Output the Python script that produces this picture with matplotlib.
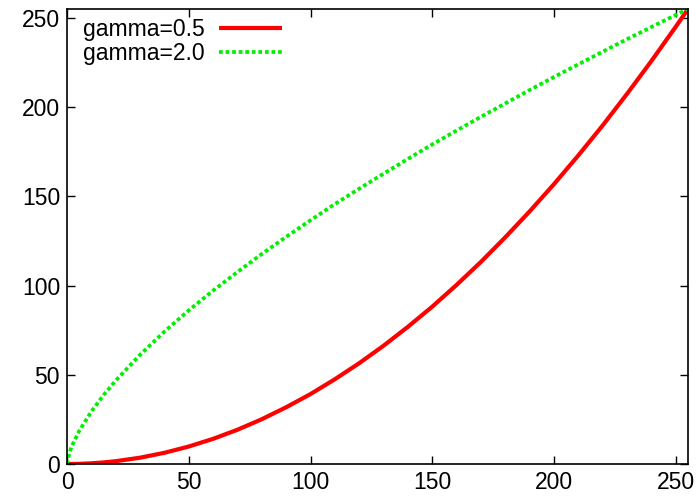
import matplotlib
matplotlib.use("Agg")
import matplotlib.pyplot as plt

plt.rcParams['font.family'] = ['Liberation Sans', 'DejaVu Sans']

x_vals = [0, 1, 2, 5, 10, 15, 20, 30, 40, 50, 60, 70, 80, 90, 100, 110, 120, 130, 140,
          150, 160, 170, 180, 190, 200, 210, 220, 230, 240, 250, 255]
gamma_05 = [0, 0.0, 0.02, 0.1, 0.39, 0.88, 1.57, 3.53, 6.27, 9.8, 14.1, 19.2, 25.1, 31.8,
            39.2, 47.5, 56.5, 66.3, 76.9, 88.2, 100.4, 113.3, 127.1, 141.6, 156.9, 173.0,
            189.8, 207.5, 225.9, 245.1, 255]
gamma_20 = [0, 6.3, 10.1, 18.5, 29.4, 38.6, 46.7, 61.2, 74.2, 86.1, 97.2, 107.6, 117.7,
            127.3, 136.6, 145.7, 154.3, 162.7, 171.0, 179.1, 186.9, 194.6, 202.1, 209.6,
            216.9, 224.0, 231.1, 238.1, 244.9, 251.7, 255]
labels = ["gamma=0.5", "gamma=2.0"]
xticks = [0, 50, 100, 150, 200, 250]
yticks = [0, 50, 100, 150, 200, 250]

fig = plt.figure(figsize=(7.0, 4.98), dpi=100)
ax = fig.add_axes([67/700, 1 - 464/498, (688-67)/700, (464-9)/498])

ax.plot(x_vals, gamma_05, color='#ff0000', lw=3.0, label=labels[0],
        solid_capstyle='butt', solid_joinstyle='round')
ax.plot(x_vals, gamma_20, color='#00f000', lw=2.7, label=labels[1],
        linestyle=(0, (1.0, 0.75)), dash_capstyle='butt')

ax.set_xlim(0, 255)
ax.set_ylim(0, 255)
ax.set_xticks(xticks)
ax.set_yticks(yticks)
ax.tick_params(direction='in', length=6, width=1, top=True, right=True,
               labelsize=16.5, pad=5, color='black')
for s in ax.spines.values():
    s.set_linewidth(1.2)
    s.set_color('black')

leg = ax.legend(loc='upper left', frameon=False, markerfirst=False, fontsize=16.5,
                handlelength=2.75, handletextpad=0.65, labelspacing=0.03,
                borderaxespad=0.0, borderpad=0.2, bbox_to_anchor=(0.018, 0.99))

fig.savefig("out.png", dpi=100)
